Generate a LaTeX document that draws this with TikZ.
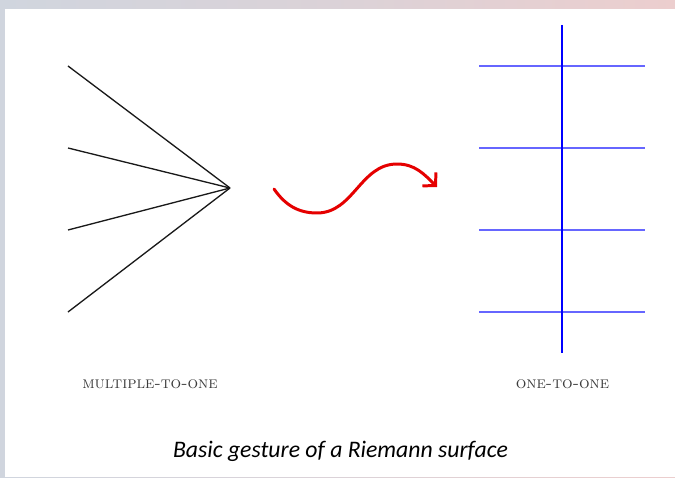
\documentclass[tikz,border=0pt]{standalone}
\usepackage{fontspec}
\newfontfamily\capfont{Carlito}
\usetikzlibrary{arrows.meta}
\definecolor{slidegray}{RGB}{208,213,222}
\definecolor{slidepink}{RGB}{236,206,206}
\definecolor{labelgray}{RGB}{60,60,60}

\begin{document}
\begin{tikzpicture}[x=0.02cm,y=0.02cm,
    fan/.style={black!90,line width=0.75pt},
    rung/.style={blue!60,line width=0.6pt},
    spine/.style={blue,line width=0.8pt},
    wave/.style={red!90!black,line width=1.7pt,line cap=round,
      -{Straight Barb[length=1.8mm,width=3.8mm]}},
    sidelabel/.style={text=labelgray,font=\fontsize{9.5}{11}\selectfont\scshape},
    caplabel/.style={font=\fontsize{13.5}{15}\selectfont\capfont\itshape}]
  \useasboundingbox (0,0) rectangle (675,477);

  % --- slide background ---
  \shade[left color=slidegray,right color=slidepink,middle color=slidegray!60!slidepink]
    (0,0) rectangle (675,477);
  \fill[white] (5,0) rectangle (675,468);

  % --- multiple-to-one ---
  \coordinate (apex) at (230,289);
  \foreach \y in {411,329,247,165}
    \draw[fan] (68,\y) -- (apex);

  % --- one-to-one ---
  \coordinate (top) at (562,452);
  \coordinate (bottom) at (562,124);
  \foreach \y in {411,329,247,165}
    \draw[rung] (479,\y) -- (645,\y);
  \draw[spine] (top) -- (bottom);

  % --- arrow ---
  \coordinate (wstart) at (274,288);
  \coordinate (wlow) at (317,264);
  \coordinate (whigh) at (397,313);
  \coordinate (wend) at (437,290);
  \draw[wave] (wstart) to[out=-55,in=180] (wlow)
    to[out=0,in=180] (whigh) to[out=0,in=135] (wend);

  % --- labels ---
  \node[sidelabel] (multi) at (150,92.5) {multiple-to-one};
  \node[sidelabel] (one) at (562.5,92.5) {one-to-one};
  \node[caplabel] (caption) at (340.5,26) {Basic gesture of a Riemann surface};
\end{tikzpicture}
\end{document}
